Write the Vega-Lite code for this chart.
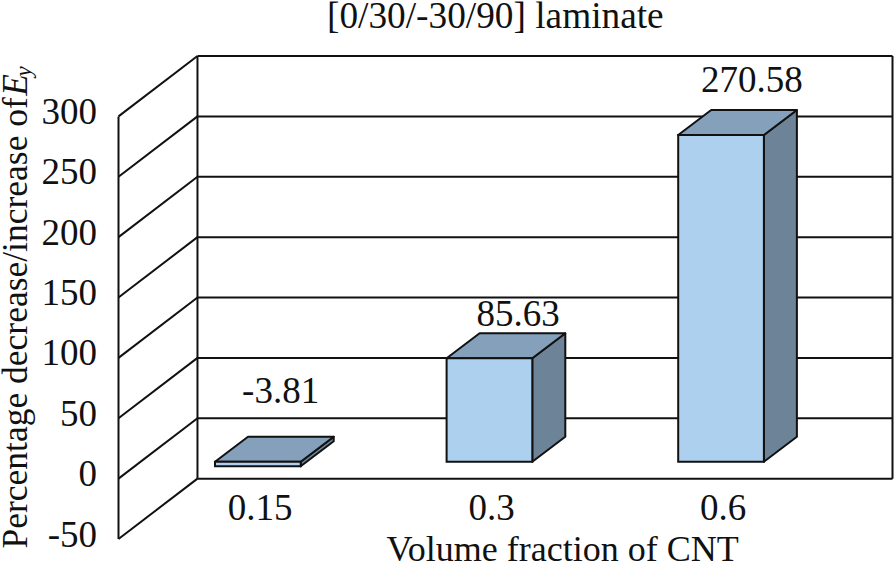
{
"$schema":"https://vega.github.io/schema/vega-lite/v6.json",
"autosize":"none","width":774,"height":483,
"padding":{"left":118.5,"top":56,"right":3.5,"bottom":26},
"background":"white",
"config":{"view":{"stroke":null},"text":{"font":"Liberation Serif","color":"#111"},
 "axisX":{"domain":false,"ticks":false,"labels":false,"grid":false},
 "axisY":{"domain":false,"ticks":false,"grid":false}},
"datasets":{
"bars":[{"fraction":"0.15","value":-3.81},{"fraction":"0.3","value":85.63},{"fraction":"0.6","value":270.58}],
"ticks":[{"tick":-50},{"tick":0},{"tick":50},{"tick":100},{"tick":150},{"tick":200},{"tick":250},{"tick":300}]
},
"layer":[
{"data":{"name":"ticks"},"transform":[{"calculate":"datum.tick+50","as":"back"}],
 "mark":{"type":"rule","color":"#111","strokeWidth":2},
 "encoding":{
  "x":{"datum":0.341,"type":"quantitative","scale":{"domain":[0,3.342],"nice":false,"zero":false},"axis":{"title":"Volume fraction of CNT","titleFont":"Liberation Serif","titleFontSize":36,"titleFontWeight":"normal","titleColor":"#111","titleX":443.5,"titleY":21,"titleBaseline":"alphabetic","titleAlign":"center"}},
  "x2":{"datum":3.342},
  "y":{"field":"back","type":"quantitative","scale":{"domain":[-50,350],"nice":false,"zero":false},"axis":{"values":[-50,0,50,100,150,200,250,300],"labelPadding":22,"labelOffset":-4,"labelFont":"Liberation Serif","labelFontSize":37,"labelColor":"#111","labelExpr":"replace(datum.label,'\u2212','-')","title":"Percentage decrease/increase of ","titleFont":"Liberation Serif","titleFontSize":35.5,"titleFontWeight":"normal","titleColor":"#111","titleAngle":270,"titleX":-92.5,"titleY":492,"titleBaseline":"alphabetic","titleAlign":"left"}}
 }},
{"data":{"name":"ticks"},"transform":[{"calculate":"datum.tick+50","as":"back"}],
 "mark":{"type":"rule","color":"#111","strokeWidth":2},
 "encoding":{"x":{"datum":0,"type":"quantitative"},"x2":{"datum":0.341},"y":{"field":"tick","type":"quantitative"},"y2":{"field":"back"}}},
{"data":{"values":[{"at":0,"lo":-50,"hi":300},{"at":0.341,"lo":0,"hi":350},{"at":3.342,"lo":0,"hi":350}]},
 "mark":{"type":"rule","color":"#111","strokeWidth":2},
 "encoding":{"x":{"field":"at","type":"quantitative"},"y":{"field":"lo","type":"quantitative"},"y2":{"field":"hi"}}},
{"data":{"name":"bars"},
 "transform":[{"calculate":"indexof(['0.15','0.3','0.6'],datum.fraction)","as":"pos"},{"calculate":"[0,1]","as":"corners"},{"flatten":["corners"],"as":["corner"]},
  {"calculate":"datum.pos+0.7867+datum.corner*0.1425","as":"sx"},
  {"calculate":"max(datum.value,0)+14+datum.corner*20.7","as":"st"},
  {"calculate":"min(datum.value,0)+14+datum.corner*20.7","as":"sb"}],
 "mark":{"type":"area","orient":"vertical","color":"#6d8397","stroke":"#111","strokeWidth":2,"strokeJoin":"round"},
 "encoding":{"x":{"field":"sx","type":"quantitative"},"y":{"field":"st","type":"quantitative"},"y2":{"field":"sb"},"detail":{"field":"fraction"}}},
{"data":{"name":"bars"},
 "transform":[{"calculate":"indexof(['0.15','0.3','0.6'],datum.fraction)","as":"pos"},{"calculate":"[0,1]","as":"corners"},{"flatten":["corners"],"as":["corner"]},
  {"calculate":"datum.pos+0.4167+datum.corner*0.1425","as":"tl"},
  {"calculate":"datum.pos+0.7867+datum.corner*0.1425","as":"tr"},
  {"calculate":"max(datum.value,0)+14+datum.corner*20.7","as":"ty"}],
 "mark":{"type":"area","orient":"horizontal","color":"#84a0bb","stroke":"#111","strokeWidth":2,"strokeJoin":"round"},
 "encoding":{"y":{"field":"ty","type":"quantitative"},"x":{"field":"tl","type":"quantitative"},"x2":{"field":"tr"},"detail":{"field":"fraction"}}},
{"data":{"name":"bars"},
 "transform":[{"calculate":"indexof(['0.15','0.3','0.6'],datum.fraction)","as":"pos"},
  {"calculate":"datum.pos+0.4167","as":"l"},{"calculate":"datum.pos+0.7867","as":"r"},{"calculate":"datum.value+14","as":"v"}],
 "mark":{"type":"rect","color":"#aed0ef","stroke":"#111","strokeWidth":2},
 "encoding":{"x":{"field":"l","type":"quantitative"},"x2":{"field":"r"},"y":{"field":"v","type":"quantitative"},"y2":{"datum":14}}},
{"data":{"name":"bars"},
 "transform":[{"calculate":"indexof(['0.15','0.3','0.6'],datum.fraction)","as":"pos"},{"calculate":"datum.pos+0.611","as":"lx"}],
 "mark":{"type":"text","fontSize":37,"align":"center","baseline":"alphabetic"},
 "encoding":{"x":{"field":"lx","type":"quantitative"},"y":{"datum":-34.3,"type":"quantitative"},"text":{"field":"fraction"}}},
{"data":{"name":"bars"},
 "transform":[{"calculate":"indexof(['0.15','0.3','0.6'],datum.fraction)","as":"pos"},
  {"calculate":"datum.pos+(datum.pos==0?0.7:datum.pos==1?0.725:0.735)","as":"lx"},
  {"calculate":"datum.value+(datum.pos==0?66.4:datum.pos==1?40.7:49.3)","as":"ly"},
  {"calculate":"replace(format(datum.value,'.2f'),'\u2212','-')","as":"txt"}],
 "mark":{"type":"text","fontSize":37,"align":"center","baseline":"alphabetic"},
 "encoding":{"x":{"field":"lx","type":"quantitative"},"y":{"field":"ly","type":"quantitative"},"text":{"field":"txt"}}},
{"data":{"values":[{"label":"[0/30/-30/90] laminate"}]},
 "mark":{"type":"text","fontSize":37.3,"align":"left","baseline":"alphabetic"},
 "encoding":{"x":{"datum":0.9003,"type":"quantitative"},"y":{"datum":373,"type":"quantitative"},"text":{"field":"label"}}},
{"data":{"values":[{"label":"E"}]},
 "mark":{"type":"text","fontSize":35.5,"fontStyle":"italic","angle":270,"align":"left","baseline":"alphabetic"},
 "encoding":{"x":{"datum":-0.395,"type":"quantitative"},"y":{"datum":317,"type":"quantitative"},"text":{"field":"label"}}},
{"data":{"values":[{"label":"y"}]},
 "mark":{"type":"text","fontSize":23,"fontStyle":"italic","angle":270,"align":"left","baseline":"alphabetic"},
 "encoding":{"x":{"datum":-0.378,"type":"quantitative"},"y":{"datum":333,"type":"quantitative"},"text":{"field":"label"}}}
]
}
